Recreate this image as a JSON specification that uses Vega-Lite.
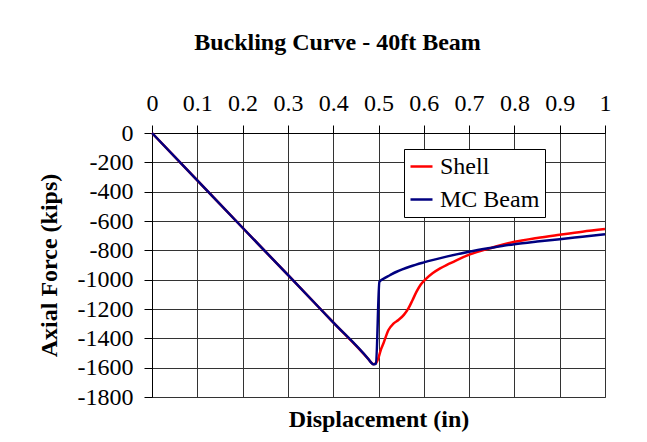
{
  "$schema": "https://vega.github.io/schema/vega-lite/v6.json",
  "width": 453,
  "height": 264,
  "autosize": {"type": "none"},
  "padding": {"left": 152, "top": 133, "right": 42, "bottom": 45},
  "background": "white",
  "config": {
    "font": "Liberation Serif",
    "view": {"stroke": "#808080", "strokeWidth": 1}
  },
  "title": {
    "text": "Buckling Curve - 40ft Beam",
    "font": "Liberation Serif",
    "fontSize": 24,
    "fontWeight": "bold",
    "color": "black",
    "anchor": "middle",
    "dx": -41,
    "offset": 36
  },
  "data": {
    "values": [
      {"series": "Shell", "disp": 0, "force": 0},
      {"series": "Shell", "disp": 0.1, "force": -323},
      {"series": "Shell", "disp": 0.2, "force": -646},
      {"series": "Shell", "disp": 0.3, "force": -968},
      {"series": "Shell", "disp": 0.4, "force": -1291},
      {"series": "Shell", "disp": 0.478, "force": -1543},
      {"series": "Shell", "disp": 0.484, "force": -1565},
      {"series": "Shell", "disp": 0.4885, "force": -1576},
      {"series": "Shell", "disp": 0.494, "force": -1570},
      {"series": "Shell", "disp": 0.4996, "force": -1536},
      {"series": "Shell", "disp": 0.505, "force": -1480},
      {"series": "Shell", "disp": 0.511, "force": -1434},
      {"series": "Shell", "disp": 0.522, "force": -1343},
      {"series": "Shell", "disp": 0.533, "force": -1300},
      {"series": "Shell", "disp": 0.544, "force": -1275},
      {"series": "Shell", "disp": 0.556, "force": -1240},
      {"series": "Shell", "disp": 0.566, "force": -1196},
      {"series": "Shell", "disp": 0.575, "force": -1140},
      {"series": "Shell", "disp": 0.584, "force": -1082},
      {"series": "Shell", "disp": 0.593, "force": -1035},
      {"series": "Shell", "disp": 0.603, "force": -1000},
      {"series": "Shell", "disp": 0.62, "force": -955},
      {"series": "Shell", "disp": 0.636, "force": -923},
      {"series": "Shell", "disp": 0.655, "force": -893},
      {"series": "Shell", "disp": 0.673, "force": -866},
      {"series": "Shell", "disp": 0.702, "force": -828},
      {"series": "Shell", "disp": 0.746, "force": -786},
      {"series": "Shell", "disp": 0.8, "force": -742},
      {"series": "Shell", "disp": 0.85, "force": -716},
      {"series": "Shell", "disp": 0.9, "force": -694},
      {"series": "Shell", "disp": 0.95, "force": -673},
      {"series": "Shell", "disp": 1.0, "force": -655},
      {"series": "MC Beam", "disp": 0, "force": 0},
      {"series": "MC Beam", "disp": 0.1, "force": -323},
      {"series": "MC Beam", "disp": 0.2, "force": -646},
      {"series": "MC Beam", "disp": 0.3, "force": -968},
      {"series": "MC Beam", "disp": 0.4, "force": -1291},
      {"series": "MC Beam", "disp": 0.478, "force": -1543},
      {"series": "MC Beam", "disp": 0.484, "force": -1566},
      {"series": "MC Beam", "disp": 0.4885, "force": -1577},
      {"series": "MC Beam", "disp": 0.4945, "force": -1572},
      {"series": "MC Beam", "disp": 0.502, "force": -1014},
      {"series": "MC Beam", "disp": 0.51, "force": -995},
      {"series": "MC Beam", "disp": 0.525, "force": -970},
      {"series": "MC Beam", "disp": 0.54, "force": -946},
      {"series": "MC Beam", "disp": 0.57, "force": -910},
      {"series": "MC Beam", "disp": 0.6, "force": -882},
      {"series": "MC Beam", "disp": 0.65, "force": -843},
      {"series": "MC Beam", "disp": 0.7, "force": -809},
      {"series": "MC Beam", "disp": 0.75, "force": -782},
      {"series": "MC Beam", "disp": 0.8, "force": -758},
      {"series": "MC Beam", "disp": 0.85, "force": -740},
      {"series": "MC Beam", "disp": 0.9, "force": -724},
      {"series": "MC Beam", "disp": 0.95, "force": -707},
      {"series": "MC Beam", "disp": 1.0, "force": -690}
    ]
  },
  "layer": [
    {
      "mark": {"type": "line", "strokeWidth": 2.5, "interpolate": "monotone"},
      "encoding": {
        "x": {
          "field": "disp",
          "type": "quantitative",
          "scale": {"domain": [0, 1], "nice": false, "zero": false},
          "axis": {
            "orient": "top",
            "values": [0, 0.1, 0.2, 0.3, 0.4, 0.5, 0.6, 0.7, 0.8, 0.9, 1],
            "labelExpr": "'' + datum.value",
            "labelFont": "Liberation Serif",
            "labelFontSize": 24,
            "labelColor": "black",
            "labelFlush": false,
            "labelPadding": 10,
            "tickSize": 8,
            "tickColor": "black",
            "domainColor": "black",
            "gridColor": "#333333",
            "title": null
          }
        },
        "y": {
          "field": "force",
          "type": "quantitative",
          "scale": {"domain": [-1800, 0], "nice": false, "zero": false},
          "axis": {
            "values": [0, -200, -400, -600, -800, -1000, -1200, -1400, -1600, -1800],
            "labelExpr": "'' + datum.value",
            "labelFont": "Liberation Serif",
            "labelFontSize": 24,
            "labelColor": "black",
            "labelFlush": false,
            "labelPadding": 11,
            "tickSize": 8,
            "tickColor": "black",
            "domainColor": "black",
            "gridColor": "#333333",
            "title": "Axial Force (kips)",
            "titleFont": "Liberation Serif",
            "titleFontSize": 24,
            "titleFontWeight": "bold",
            "titleColor": "black",
            "titlePadding": 16
          }
        },
        "color": {
          "field": "series",
          "type": "nominal",
          "scale": {"domain": ["Shell", "MC Beam"], "range": ["#FF0000", "#000080"]},
          "legend": {
            "orient": "none",
            "legendX": 252,
            "legendY": 16,
            "title": null,
            "strokeColor": "black",
            "fillColor": "white",
            "padding": 5,
            "labelFont": "Liberation Serif",
            "labelFontSize": 24,
            "labelColor": "black",
            "labelOffset": 6,
            "symbolType": "stroke",
            "symbolSize": 484,
            "symbolStrokeWidth": 2.5,
            "rowPadding": 8
          }
        }
      }
    },
    {
      "mark": {"type": "rule", "opacity": 0},
      "encoding": {
        "x": {
          "datum": 0,
          "type": "quantitative",
          "axis": {
            "orient": "bottom",
            "labels": false,
            "ticks": false,
            "domain": false,
            "grid": false,
            "title": "Displacement (in)",
            "titleFont": "Liberation Serif",
            "titleFontSize": 24,
            "titleFontWeight": "bold",
            "titleColor": "black",
            "titlePadding": 10
          }
        }
      }
    }
  ],
  "resolve": {"axis": {"x": "independent"}}
}
